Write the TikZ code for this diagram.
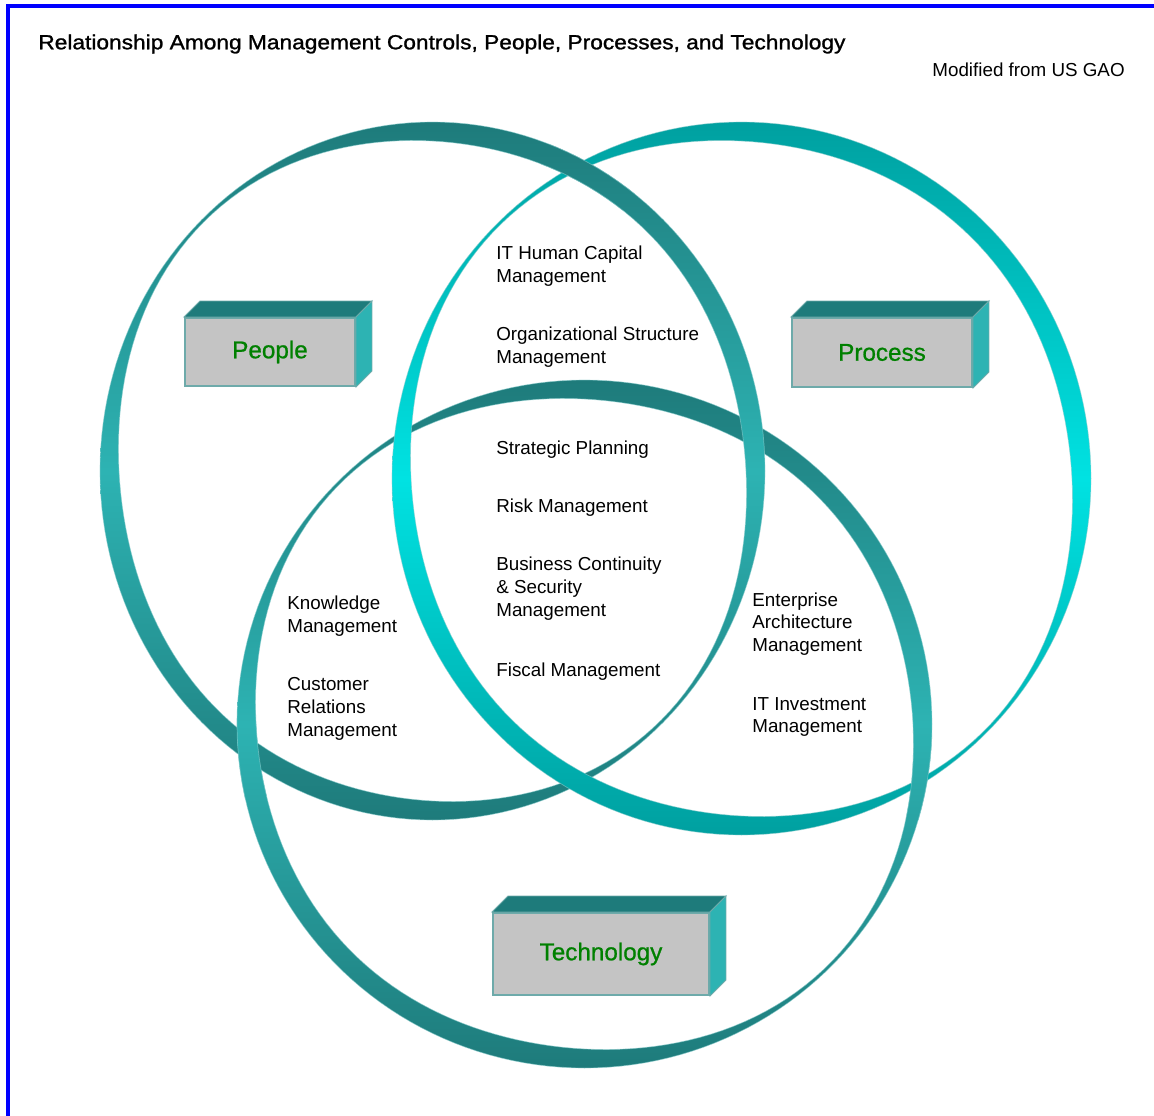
\documentclass[tikz,border=0pt]{standalone}
\usepackage{fontspec}
\setmainfont{Liberation Sans}
\newfontfamily\titlefont[FakeStretch=1.115,FakeBold=1.2]{Liberation Sans}
\newfontfamily\labelfont[FakeBold=0.8]{Liberation Sans}
\usepackage{xcolor}
\usetikzlibrary{calc,positioning}

\definecolor{ringdark}{RGB}{30,123,123}
\definecolor{ringlight}{RGB}{45,179,179}
\definecolor{cyandark}{RGB}{0,160,160}
\definecolor{cyanlight}{RGB}{0,226,226}
\definecolor{ringedge}{RGB}{140,205,205}
\definecolor{facegray}{RGB}{196,196,196}
\definecolor{faceedge}{RGB}{110,170,170}
\definecolor{labelgreen}{RGB}{0,128,0}
\definecolor{frameblue}{RGB}{0,0,255}

% ring = outer ellipse minus a thinner inner one
\newcommand{\ringpath}[4]{%
  plot[domain=0:360,samples=181,variable=\a] ({#1+#3*cos(\a)},{#2+#4*sin(\a)}) -- cycle
  plot[domain=0:360,samples=181,variable=\a] ({#1+(#3-rt(\a))*cos(\a)},{#2+(#4-rt(\a))*sin(\a)}) -- cycle}

\begin{document}
\begin{tikzpicture}[x=0.02cm,y=-0.02cm,
    declare function={rt(\a)=19-8.5*sin(2*\a)-7.5*sin(2*\a)*sin(2*\a);},
    tealring/.style={even odd rule,top color=ringdark,bottom color=ringdark,middle color=ringlight,
      draw=ringedge,draw opacity=0.6,line width=0.4pt},
    cyanring/.style={even odd rule,top color=cyandark,bottom color=cyandark,middle color=cyanlight,
      draw=ringedge,draw opacity=0.6,line width=0.4pt},
    face/.style={rectangle,fill=facegray,draw=faceedge,line width=1.1pt,text=labelgreen,
      font=\labelfont\fontsize{13.8}{16}\selectfont},
    topface/.style={fill=ringdark,draw=faceedge,line width=0.5pt},
    sideface/.style={fill=ringlight,draw=faceedge,line width=0.5pt},
    item/.style={anchor=west,align=left,inner sep=0pt,font=\fontsize{10.7}{13}\selectfont}]
        \useasboundingbox (0,0) rectangle (1154,1116);
        % Frame
        \draw[frameblue,line width=0.08cm] (8,1116) -- (8,6) -- (1154,6);
        % Rings
        \shadedraw[tealring] \ringpath{584.5}{724}{347.5}{344};
        \shadedraw[tealring] \ringpath{432.5}{471}{332.5}{349};
        \shadedraw[cyanring] \ringpath{741.5}{478.5}{349.5}{356.5};
        % Crossings where the lower ring comes on top
        \begin{scope}
            \clip (590,172) circle [radius=1cm];
            \shadedraw[tealring] \ringpath{432.5}{471}{332.5}{349};
        \end{scope}
        \begin{scope}
            \clip (248,755) circle [radius=0.9cm];
            \shadedraw[tealring] \ringpath{584.5}{724}{347.5}{344};
        \end{scope}
        \begin{scope}
            \clip (918,775) circle [radius=0.9cm];
            \shadedraw[tealring] \ringpath{584.5}{724}{347.5}{344};
        \end{scope}
        % Boxes
        \node(people) at (270,352)[face,minimum width=3.4cm,minimum height=1.36cm] {People};
        \node(process) at (882,352.5)[face,minimum width=3.6cm,minimum height=1.38cm] {Process};
        \node(technology) at (601,954)[face,minimum width=4.32cm,minimum height=1.64cm] {Technology};
        \foreach \b in {people,process,technology}{
            \draw[topface] (\b.north west) -- ++(16,-16) -- ($(\b.north east)+(16,-16)$) -- (\b.north east) -- cycle;
            \draw[sideface] (\b.north east) -- ++(16,-16) -- ($(\b.south east)+(16,-16)$) -- (\b.south east) -- cycle;
        }
        % Titles
        \node(title) at (38,44)[anchor=west,inner sep=0pt,font=\titlefont\fontsize{11.6}{13}\selectfont]
            {Relationship Among Management Controls, People, Processes, and Technology};
        \node(source) at (1125,70)[anchor=east,inner sep=0pt,font=\fontsize{10.7}{13}\selectfont] {Modified from US GAO};
        % Controls
        \node(humcap) at (496,266)[item] {IT Human Capital\\Management};
        \node(orgstruct) at (496,347.5)[item] {Organizational Structure\\Management};
        \node(strategic) at (496,449.5)[item] {Strategic Planning};
        \node(risk) at (496,507.5)[item] {Risk Management};
        \node(continuity) at (496,588.5)[item] {Business Continuity\\\& Security\\Management};
        \node(fiscal) at (496,671.5)[item] {Fiscal Management};
        \node(knowledge) at (287,616)[item] {Knowledge\\Management};
        \node(customer) at (287,709)[item] {Customer\\Relations\\Management};
        \node(enterprise) at (752,624)[item] {Enterprise\\Architecture\\Management};
        \node(investment) at (752,717)[item] {IT Investment\\Management};
    \end{tikzpicture}
\end{document}
